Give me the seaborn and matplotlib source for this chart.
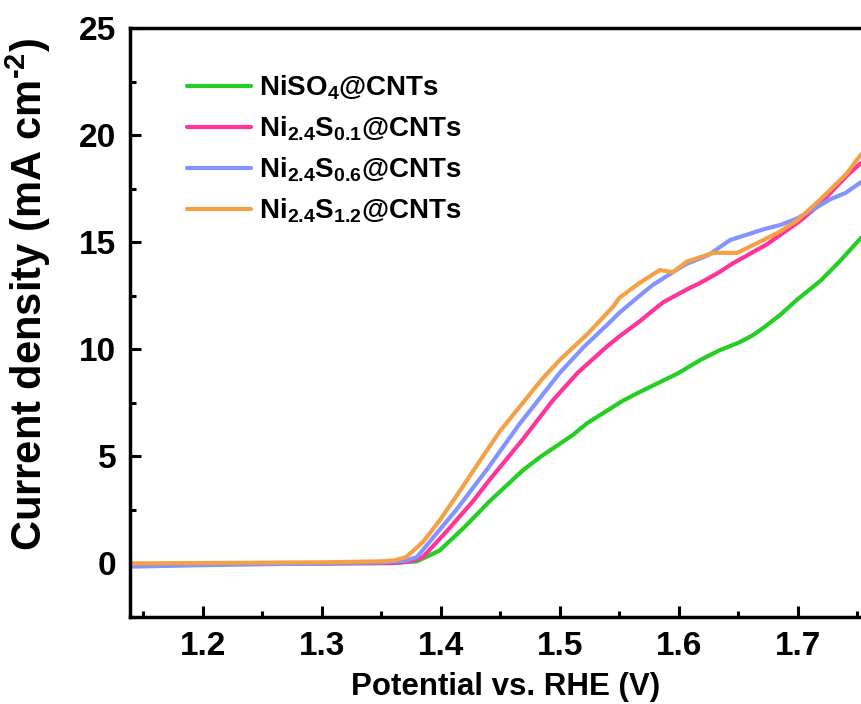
import pandas as pd
import matplotlib
matplotlib.use("Agg")
import matplotlib.pyplot as plt
from matplotlib.ticker import MultipleLocator
import seaborn as sns

# data (potential in V, current density in mA cm-2)
x_niso4 = [1.139, 1.20, 1.30, 1.36, 1.38, 1.399, 1.420, 1.441, 1.469, 1.483, 1.511,
           1.523, 1.553, 1.567, 1.578, 1.600, 1.618, 1.634, 1.650, 1.662, 1.671,
           1.685, 1.699, 1.719, 1.735, 1.753]
y_niso4 = [-0.05, -0.02, 0.0, 0.02, 0.1, 0.6, 1.7, 2.9, 4.35, 4.95, 6.0,
           6.55, 7.6, 8.0, 8.3, 8.9, 9.5, 9.95, 10.3, 10.65, 11.0,
           11.6, 12.3, 13.2, 14.1, 15.2]

x_s01 = [1.139, 1.20, 1.30, 1.36, 1.375, 1.385, 1.405, 1.427, 1.441, 1.469, 1.494,
         1.515, 1.539, 1.550, 1.567, 1.578, 1.587, 1.607, 1.618, 1.634, 1.645,
         1.674, 1.702, 1.717, 1.729, 1.741, 1.753]
y_s01 = [-0.05, -0.02, 0.0, 0.02, 0.1, 0.3, 1.5, 2.9, 3.9, 5.8, 7.6,
         8.9, 10.1, 10.6, 11.3, 11.8, 12.2, 12.8, 13.1, 13.6, 14.0,
         14.9, 16.0, 16.7, 17.4, 18.1, 18.7]

x_s06 = [1.139, 1.20, 1.30, 1.35, 1.37, 1.38, 1.413, 1.439, 1.466, 1.483,
         1.50, 1.52, 1.539, 1.55, 1.567, 1.578, 1.595, 1.607, 1.625, 1.643,
         1.66, 1.671, 1.685, 1.699, 1.715, 1.727, 1.740, 1.753]
y_s06 = [-0.15, -0.08, 0.0, 0.05, 0.12, 0.3, 2.5, 4.4, 6.5, 7.7,
         8.9, 10.1, 11.1, 11.7, 12.5, 13.0, 13.6, 14.0, 14.4, 15.1,
         15.4, 15.6, 15.8, 16.1, 16.6, 17.0, 17.3, 17.8]

x_s12 = [1.139, 1.20, 1.30, 1.35, 1.362, 1.371, 1.385, 1.399, 1.415, 1.433, 1.45,
         1.469, 1.485, 1.50, 1.523, 1.545, 1.55, 1.567, 1.584, 1.595, 1.607,
         1.629, 1.649, 1.660, 1.671, 1.685, 1.699, 1.719, 1.741, 1.753]
y_s12 = [0.0, 0.02, 0.05, 0.1, 0.15, 0.3, 1.0, 2.0, 3.3, 4.8, 6.2,
         7.5, 8.6, 9.5, 10.7, 12.0, 12.4, 13.1, 13.7, 13.6, 14.1,
         14.5, 14.5, 14.8, 15.1, 15.5, 16.0, 17.0, 18.2, 19.1]

labels = [r"NiSO$_4$@CNTs", r"Ni$_{2.4}$S$_{0.1}$@CNTs",
          r"Ni$_{2.4}$S$_{0.6}$@CNTs", r"Ni$_{2.4}$S$_{1.2}$@CNTs"]
colors = ["#22cf22", "#ff3399", "#8393ff", "#f5a045"]

frames = []
for lab, xs, ys in zip(labels, [x_niso4, x_s01, x_s06, x_s12],
                       [y_niso4, y_s01, y_s06, y_s12]):
    frames.append(pd.DataFrame({"E": xs, "j": ys, "sample": lab}))
df = pd.concat(frames, ignore_index=True)

sns.set_theme(style="ticks")
plt.rcParams["font.family"] = ["Liberation Sans", "DejaVu Sans"]
plt.rcParams["font.weight"] = "bold"
plt.rcParams["text.color"] = "black"
plt.rcParams["axes.labelcolor"] = "black"
plt.rcParams["axes.edgecolor"] = "black"
plt.rcParams["xtick.color"] = "black"
plt.rcParams["ytick.color"] = "black"
plt.rcParams["mathtext.fontset"] = "custom"
plt.rcParams["mathtext.rm"] = "Liberation Sans:bold"
plt.rcParams["mathtext.it"] = "Liberation Sans:bold"
plt.rcParams["mathtext.bf"] = "Liberation Sans:bold"
plt.rcParams["mathtext.default"] = "rm"

fig = plt.figure(figsize=(8.61, 7.04), dpi=100)
ax = fig.add_axes([0.151, 0.1236, 0.849, 0.8366])

sns.lineplot(data=df, x="E", y="j", hue="sample", palette=colors,
             hue_order=labels, linewidth=3, sort=False, ax=ax)

ax.set_xlim(1.139, 1.753)
ax.set_ylim(-2.5, 25)
ax.xaxis.set_major_locator(MultipleLocator(0.1))
ax.xaxis.set_minor_locator(MultipleLocator(0.05))
ax.yaxis.set_major_locator(MultipleLocator(5))
ax.yaxis.set_minor_locator(MultipleLocator(2.5))
ax.tick_params(which="both", direction="in", width=2.2, labelsize=24, pad=10)
ax.tick_params(which="major", length=8)
ax.tick_params(which="minor", length=4)
for lab in ax.get_xticklabels() + ax.get_yticklabels():
    lab.set_fontweight("bold")
for side in ["left", "bottom", "top"]:
    ax.spines[side].set_linewidth(2.5)
ax.spines["right"].set_visible(False)

ax.set_xlabel("Potential vs. RHE (V)", fontsize=22.5, fontweight="bold")
ax.xaxis.set_label_coords(0.514, -0.094)
ax.set_ylabel(r"Current density (mA cm$^{\text{-2}}$)", fontsize=30, fontweight="bold")
ax.yaxis.set_label_coords(-0.105, 0.548)

leg = ax.legend(loc="upper left", bbox_to_anchor=(0.063, 0.941), frameon=False,
                fontsize=20, handlelength=2.3, handletextpad=0.3, labelspacing=0.45,
                borderaxespad=0)
for line in leg.get_lines():
    line.set_linewidth(3)

fig.savefig("out.png", dpi=100)
